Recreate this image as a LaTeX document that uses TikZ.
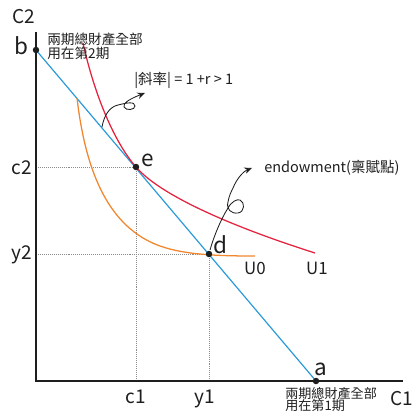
\documentclass[tikz,border=0pt]{standalone}
\usepackage{fontspec}
\setmainfont{Noto Sans CJK TC}
\usetikzlibrary{arrows.meta}
\definecolor{ink}{HTML}{1E1E1E}
\definecolor{budget}{HTML}{2A9AD8}
\definecolor{uone}{HTML}{E5233F}
\definecolor{uzero}{HTML}{F0862E}
\definecolor{dotgray}{HTML}{8C8C8C}
\tikzset{
  every node/.style = {text=ink, inner sep=0pt},
  axisln/.style  = {draw=ink, line width=0.9pt},
  bline/.style   = {draw=budget, line width=0.85pt},
  uline/.style   = {line width=0.9pt},
  guideln/.style = {draw=dotgray, line width=0.4pt, densely dotted},
  ptdot/.style   = {circle, fill=ink, minimum size=4.6pt, inner sep=0pt},
  axlab/.style   = {font=\fontsize{13.5}{14}\selectfont},
  ptlab/.style   = {font=\fontsize{16}{16}\selectfont},
  ulab/.style    = {font=\fontsize{12}{12}\selectfont},
  note/.style    = {font=\fontsize{9.7}{10}\selectfont, align=left},
  notelow/.style = {font=\fontsize{9.3}{8.9}\selectfont, align=left},
  hint/.style    = {font=\fontsize{10.3}{11}\selectfont},
  curly/.style   = {-{Stealth[length=1.9mm,width=1.6mm]}, draw=ink, line width=0.6pt},
}

\begin{document}
\begin{tikzpicture}[x=0.025cm, y=-0.025cm]
\useasboundingbox (0,0) rectangle (418,412);

% key points (pixel grid)
\coordinate (O)  at (36,381);
\coordinate (top) at (36,32);
\coordinate (rgt) at (403,381);
\coordinate (b)  at (36,50);
\coordinate (a)  at (316,381);
\coordinate (e)  at (136,167);
\coordinate (d)  at (209,254);

% guides
\draw[guideln] (O |- e) -- (e) -- (e |- O);
\draw[guideln] (O |- d) -- (d) -- (d |- O);

% budget line and indifference curves
\draw[bline] (b) -- (a);
\draw[uline, draw=uone]
  (83,43) .. controls (95,97) and (115,143) .. (e)
  .. controls (160,195) and (230,226) .. (315,253);
\draw[uline, draw=uzero]
  (77,98) .. controls (86,175) and (110,228) .. (160,246)
  .. controls (185,255) and (220,256) .. (255,256);

% axes
\draw[axisln] (top) -- (O) -- (rgt);

\node[ptdot] (ptb) at (b) {};
\node[ptdot] (pta) at (a) {};
\node[ptdot] (pte) at (e) {};
\node[ptdot] (ptd) at (d) {};

% axis labels
\node[axlab, anchor=base] (Ctwo) at (23.5,23.5) {C2};
\node[axlab, anchor=base] (Cone) at (402,405) {C1};
\node[axlab, anchor=base east] (ctwo) at (32,175) {c2};
\node[axlab, anchor=base east] (ytwo) at (32,259) {y2};
\node[axlab, anchor=base] (cone) at (e |- 0,403) {c1};
\node[axlab, anchor=base] (yone) at (205,403) {y1};

% point labels
\node[ptlab, anchor=base] (lb) at (21.5,55) {b};
\node[ptlab, anchor=base] (la) at (320.5,375) {a};
\node[ptlab, anchor=base] (le) at (148,166) {e};
\node[ptlab, anchor=base] (ld) at (220.5,253) {d};
\node[ulab, anchor=base] (lu0) at (255,274) {U0};
\node[ulab, anchor=base] (lu1) at (317,274) {U1};

% notes
\node[note, anchor=north west] (allb) at (47,33) {兩期總財產全部\\用在第2期};
\node[notelow, anchor=north west] (alla) at (285,387) {兩期總財產全部\\用在第1期};
\node[hint, anchor=west] (slope) at (134,80) {|斜率| = 1 +r > 1};
\node[hint, anchor=west] (endw) at (264,168) {endowment(稟賦點)};

% curly pointers
\coordinate (s1) at (102,127);
\coordinate (t1) at (145,93);
\draw[curly] (s1) .. controls (104,116) and (109,107) .. (118,105)
  .. controls (126,103) and (135,101) .. (135,106)
  .. controls (135,110) and (126,111) .. (124,107)
  .. controls (122,103) and (132,98) .. (t1);
\coordinate (s2) at (210,250);
\coordinate (t2) at (252,168);
\draw[curly] (s2) .. controls (214,236) and (221,219) .. (228,208)
  .. controls (232,201) and (237,199) .. (240,200)
  .. controls (245,202) and (245,212) .. (238,213)
  .. controls (231,214) and (226,209) .. (228,202)
  .. controls (229,196) and (231,192) .. (233,188)
  .. controls (237,178) and (244,171) .. (t2);
\end{tikzpicture}
\end{document}
